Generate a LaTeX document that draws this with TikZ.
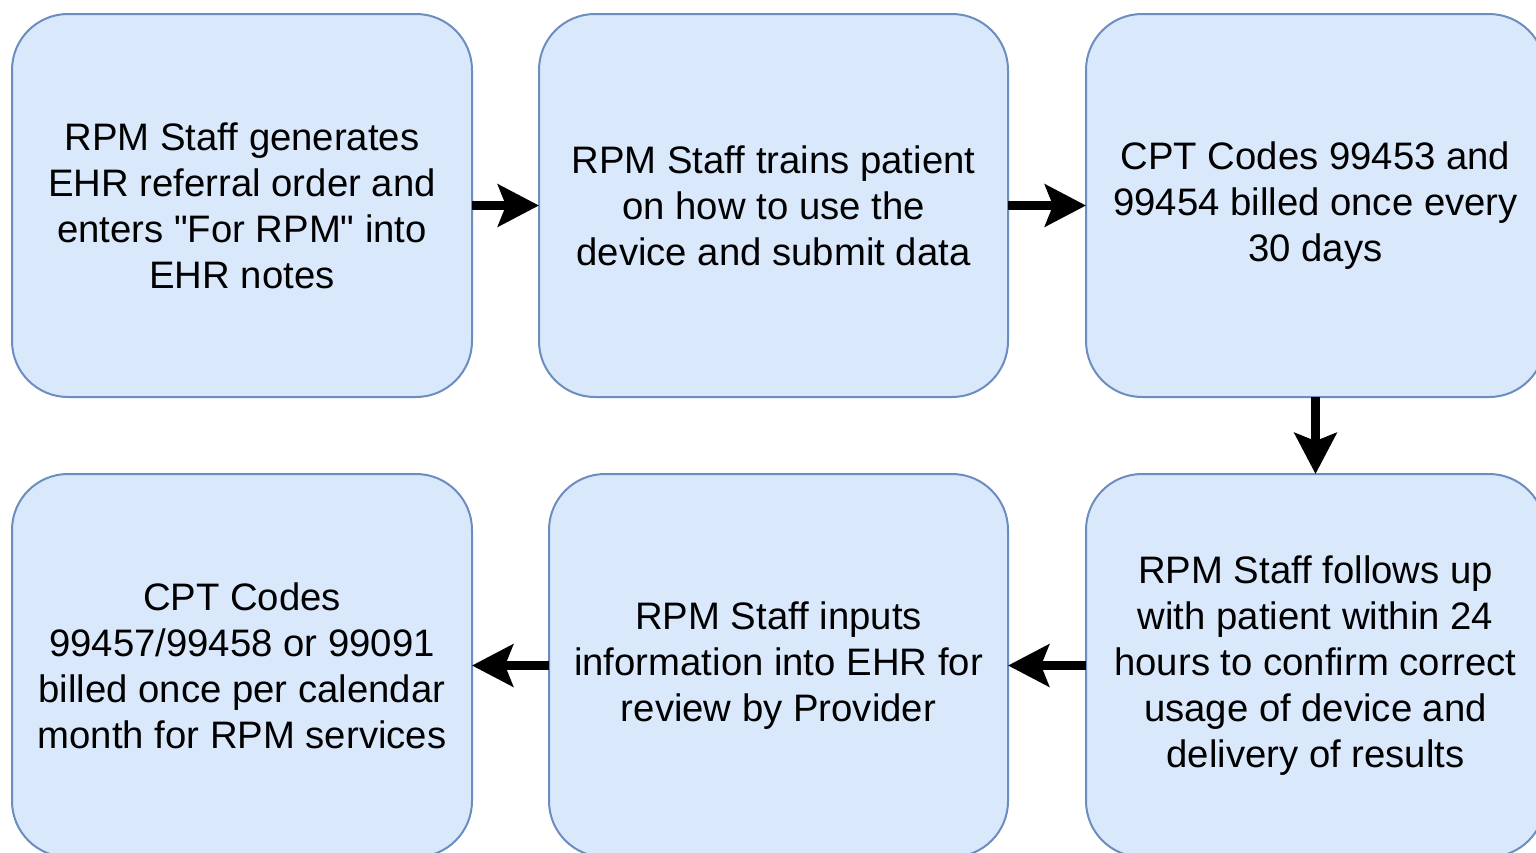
\documentclass[tikz,border=0pt]{standalone}
\usepackage{fontspec}
\setmainfont{Liberation Sans}
\newfontfamily\plainsans{Liberation Sans}
\usetikzlibrary{arrows.meta}
\definecolor{boxfill}{HTML}{DAE8FC}
\definecolor{boxline}{HTML}{6C8EBF}
\newcommand{\dq}{{\plainsans\char34}}
\tikzset{
  stepbox/.style={draw=boxline, fill=boxfill, line width=2pt, rounded corners=56pt,
    minimum height=383pt, outer sep=0pt, inner sep=0pt, align=center,
    font=\fontsize{38.3}{46}\selectfont},
  flow/.style={line width=9pt, -{Stealth[length=41pt, width=42pt, inset=8pt]}}
}
\begin{document}
\begin{tikzpicture}[x=1pt, y=-1pt]
\clip (0,0) rectangle (1536,852);
\fill[white] (0,0) rectangle (1536,852);
\node[stepbox, minimum width=460pt] (b1) at (242,205.5) {RPM Staff generates\\EHR referral order and\\enters \dq For RPM\dq{} into\\EHR notes};
\node[stepbox, minimum width=469pt] (b2) at (773.5,205.5) {RPM Staff trains patient\\on how to use the\\device and submit data};
\node[stepbox, minimum width=459pt] (b3) at (1315.5,205.5) {CPT Codes 99453 and\\99454 billed once every\\30 days};
\node[stepbox, minimum width=460pt] (b4) at (242,665.5) {CPT Codes\\99457/99458 or 99091\\billed once per calendar\\month for RPM services};
\node[stepbox, minimum width=459pt] (b5) at (778.5,665.5) {RPM Staff inputs\\information into EHR for\\review by Provider};
\node[stepbox, minimum width=459pt] (b6) at (1315.5,665.5) {RPM Staff follows up\\with patient within 24\\hours to confirm correct\\usage of device and\\delivery of results};
\draw[flow] (b1.east) -- (b2.west);
\draw[flow] (b2.east) -- (b3.west);
\draw[flow] (b3.south) -- (b6.north);
\draw[flow] (b6.west) -- (b5.east);
\draw[flow] (b5.west) -- (b4.east);
\end{tikzpicture}
\end{document}
